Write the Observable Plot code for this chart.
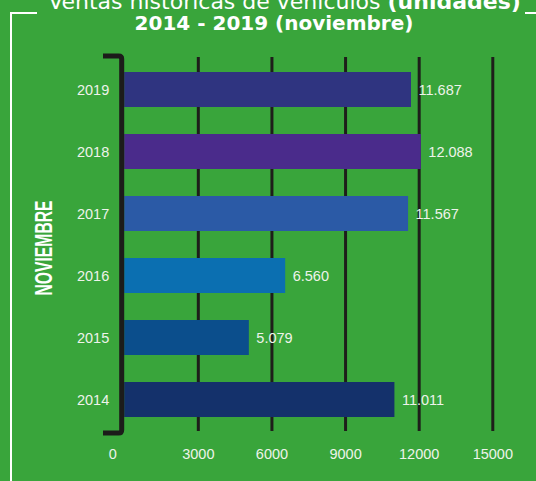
<!DOCTYPE html>
<html>
<head>
<meta charset="utf-8">
<script src="https://cdn.jsdelivr.net/npm/d3@7"></script>
<script src="https://cdn.jsdelivr.net/npm/@observablehq/plot@0.6"></script>
<style>
  html, body { margin: 0; padding: 0; background: #39a53b; }
  #chart { width: 536px; height: 481px; overflow: hidden; }
</style>
</head>
<body>
<div id="chart"></div>
<script>
const years = ["2019", "2018", "2017", "2016", "2015", "2014"];
const units = [11687, 12088, 11567, 6560, 5079, 11011];
const barColors = ["#2f3480", "#4a2b8b", "#2b5aa6", "#0b6fb1", "#0b4e8c", "#14316b"];
const xTicks = [0, 3000, 6000, 9000, 12000, 15000];
const titleLine1 = "Ventas históricas de vehículos ";
const titleBold = "(unidades)";
const titleLine2 = "2014 - 2019 (noviembre)";
const yLabel = "NOVIEMBRE";

const data = years.map((y, i) => ({year: y, units: units[i]}));
const fmt = d3.formatLocale({thousands: ".", grouping: [3], decimal: ",", currency: ["", ""]}).format(",d");

const labelColor = "#eef3ea";
const W = 536, H = 481, mT = 57, mB = 50, mL = 124.2, mR = 43.7;

const plot = Plot.plot({
  width: W, height: H,
  marginTop: mT, marginBottom: mB, marginLeft: mL, marginRight: mR,
  style: {background: "transparent", fontFamily: "'Liberation Sans', Arial, sans-serif", fontSize: "14.5px", color: labelColor},
  x: {domain: [0, 15000], axis: null},
  y: {domain: years, type: "band", paddingInner: 0.442, paddingOuter: 0.23, axis: null},
  color: {domain: years, range: barColors},
  marks: [
    Plot.ruleX(xTicks.filter(d => d > 0), {stroke: "#1e1e1a", strokeWidth: 3}),
    Plot.barX(data, {x: "units", y: "year", fill: "year"}),
    Plot.text(data, {x: "units", y: "year", text: d => fmt(d.units), textAnchor: "start", dx: 7, fill: labelColor}),
    Plot.text(years, {y: d => d, text: d => d, frameAnchor: "left", textAnchor: "end", dx: -15.5, fill: labelColor}),
    Plot.text(xTicks.filter(d => d > 0), {x: d => d, text: d => String(d), frameAnchor: "bottom", dy: 27.5, fill: labelColor}),
    Plot.text(xTicks.filter(d => d === 0), {x: d => d, text: d => String(d), frameAnchor: "bottom", dy: 27.5, dx: -12, fill: labelColor}),
    Plot.text([yLabel], {text: d => d, frameAnchor: "left", textAnchor: "start", dx: -80.7, dy: 51, rotate: -90, fill: "#ffffff", fontWeight: "bold", fontSize: 24})
  ]
});

document.getElementById("chart").appendChild(plot);

const svg = d3.select(plot);
svg.selectAll("text").filter(function() { return this.textContent === yLabel; })
  .attr("textLength", 95).attr("lengthAdjust", "spacingAndGlyphs");

// decoration: white frame and black bracket
const x0 = plot.scale("x").apply(0);
const bx = x0 - 2.5, yt = mT - 1, yb = H - mB + 2;
svg.append("path")
  .attr("d", `M11,${H} V13 H37 M525,13 H${W}`)
  .attr("fill", "none").attr("stroke", "#ffffff").attr("stroke-width", 2);
svg.append("path")
  .attr("d", `M103,${yt} H${bx - 3} Q${bx},${yt} ${bx},${yt + 3} V${yb - 3} Q${bx},${yb} ${bx - 3},${yb} H103`)
  .attr("fill", "none").attr("stroke", "#1c1c1a").attr("stroke-width", 5);

// title
const t1 = svg.append("text")
  .attr("x", 284.5).attr("y", 8.5).attr("text-anchor", "middle")
  .attr("fill", "#ffffff").style("font-family", "'DejaVu Sans', sans-serif").style("font-size", "22px");
t1.append("tspan").text(titleLine1);
t1.append("tspan").style("font-weight", "bold").text(titleBold);
svg.append("text")
  .attr("x", 274).attr("y", 30).attr("text-anchor", "middle")
  .attr("fill", "#ffffff").style("font-family", "'DejaVu Sans', sans-serif").style("font-size", "20px").style("font-weight", "bold")
  .text(titleLine2);
</script>
</body>
</html>
